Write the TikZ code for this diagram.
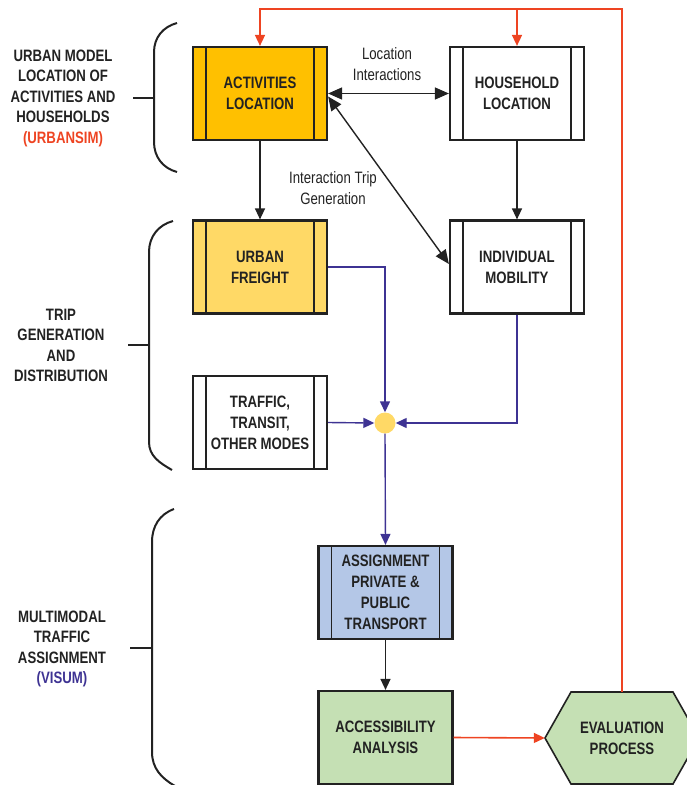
\documentclass[tikz,border=0pt]{standalone}
\usepackage{fontspec}
\setmainfont{Liberation Sans}[FakeStretch=0.8]
\usetikzlibrary{arrows.meta,calc}

\definecolor{actgold}{HTML}{FFC000}
\definecolor{freightyel}{HTML}{FFD966}
\definecolor{assignblue}{HTML}{B4C7E7}
\definecolor{accgreen}{HTML}{C5E0B4}
\definecolor{fbred}{HTML}{EE4422}
\definecolor{flowpurple}{HTML}{3E3393}
\definecolor{inkdark}{HTML}{222222}

\tikzset{
  flowtip/.tip={Triangle[length=11pt,width=10pt]},
  bigtip/.tip={Triangle[length=14pt,width=12pt]},
  boxtext/.style={font=\bfseries\fontsize{16.5}{21}\selectfont, text=inkdark},
  plainbox/.style={boxtext, draw=inkdark, line width=2.2pt, minimum width=134pt,
    minimum height=93pt, inner sep=0pt, align=center},
  procbox/.style={plainbox, path picture={
      \draw[inkdark, line width=1.8pt]
        ([xshift=13pt]path picture bounding box.north west) --
        ([xshift=13pt]path picture bounding box.south west)
        ([xshift=-13pt]path picture bounding box.north east) --
        ([xshift=-13pt]path picture bounding box.south east);}},
  sidelabel/.style={font=\bfseries\fontsize{16.5}{20.5}\selectfont, text=inkdark, align=center},
  linklabel/.style={font=\fontsize{16.5}{21}\selectfont, text=inkdark, align=center},
  blackflow/.style={draw=inkdark, line width=1.4pt, -flowtip},
  twoway/.style={draw=inkdark, line width=1.4pt, bigtip-bigtip},
  purpleflow/.style={draw=flowpurple, line width=1.4pt, -flowtip},
  redflow/.style={draw=fbred, line width=1.6pt},
  bracket/.style={draw=inkdark, line width=2pt},
}

\begin{document}
\begin{tikzpicture}[x=1pt,y=-1pt]
\useasboundingbox (0,0) rectangle (686,785);

% ---- boxes ----
\node[procbox, fill=actgold] (act) at (260,93.5) {ACTIVITIES\\LOCATION};
\node[procbox, fill=white] (hh) at (517,93.5) {HOUSEHOLD\\LOCATION};
\node[procbox, fill=freightyel] (freight) at (260,267) {URBAN\\FREIGHT};
\node[procbox, fill=white] (mob) at (517,267) {INDIVIDUAL\\MOBILITY};
\node[procbox, fill=white] (traffic) at (260,422.5) {TRAFFIC,\\TRANSIT,\\OTHER MODES};
\node[circle, fill=freightyel, minimum size=21pt, inner sep=0pt] (junc) at (385,423) {};
\node[procbox, fill=assignblue] (assign) at (385.5,592.5) {ASSIGNMENT\\PRIVATE \&\\PUBLIC\\TRANSPORT};
\node[plainbox, fill=accgreen] (acc) at (385.5,737.5) {ACCESSIBILITY\\ANALYSIS};

% evaluation hexagon
\draw[inkdark, line width=1.6pt, fill=accgreen]
  (545,738) -- (571,692) -- (673,692) -- (699,738) -- (673,784) -- (571,784) -- cycle;
\node[boxtext, align=center, minimum width=154pt, minimum height=92pt, inner sep=0pt]
  (eval) at (622,738) {EVALUATION\\PROCESS};

% ---- side labels and brackets ----
\node[sidelabel] (lab1) at (63,98) {URBAN MODEL\\LOCATION OF\\ACTIVITIES AND\\HOUSEHOLDS\\\textcolor{fbred}{(URBANSIM)}};
\node[sidelabel] (lab2) at (61,345.5) {TRIP\\GENERATION\\AND\\DISTRIBUTION};
\node[sidelabel] (lab3) at (62,649) {MULTIMODAL\\TRAFFIC\\ASSIGNMENT\\\textcolor{flowpurple}{(VISUM)}};

\draw[bracket] (177,23) to[out=195,in=90] (154,52) -- (154,142) to[out=-90,in=165] (177,172);
\draw[bracket] (133,98) -- (154,98);
\draw[bracket] (173,221) to[out=195,in=90] (149,252) -- (149,442) to[out=-90,in=150] (172,470);
\draw[bracket] (128,345) -- (149,345);
\draw[bracket] (174,509) to[out=200,in=90] (152,542) -- (152,752) to[out=-90,in=150] (175,786);
\draw[bracket] (130,648) -- (152,648);

% ---- black connectors ----
\draw[blackflow] (act.south) -- (freight.north);
\draw[blackflow] (hh.south) -- (mob.north);
\draw[blackflow] (assign.south) -- (acc.north);
\draw[twoway] (act.east) -- (hh.east -| hh.west);
\draw[twoway] ($(act.east)+(0,3)$) -- ($(mob.west)+(0,-3)$);

\node[linklabel] (lablink1) at (387,64) {Location\\Interactions};
\node[linklabel] (lablink2) at (333,188) {Interaction Trip\\Generation};

% ---- purple flows into the junction ----
\draw[purpleflow] (freight.east) -| (junc.north);
\draw[purpleflow] (mob.south) |- (junc.east);
\draw[purpleflow] (traffic.east) -- (junc.west);
\draw[purpleflow] (junc.south) -- (assign.north);

% ---- red feedback loop ----
\draw[redflow, -flowtip] (acc.east) -- (eval.west);
\coordinate (looptop) at (0,9);
\draw[redflow, -flowtip] (eval.north) -- (eval.north |- looptop) -- (act.north |- looptop) -- (act.north);
\draw[redflow, -flowtip] (hh.north |- looptop) -- (hh.north);

\end{tikzpicture}
\end{document}
